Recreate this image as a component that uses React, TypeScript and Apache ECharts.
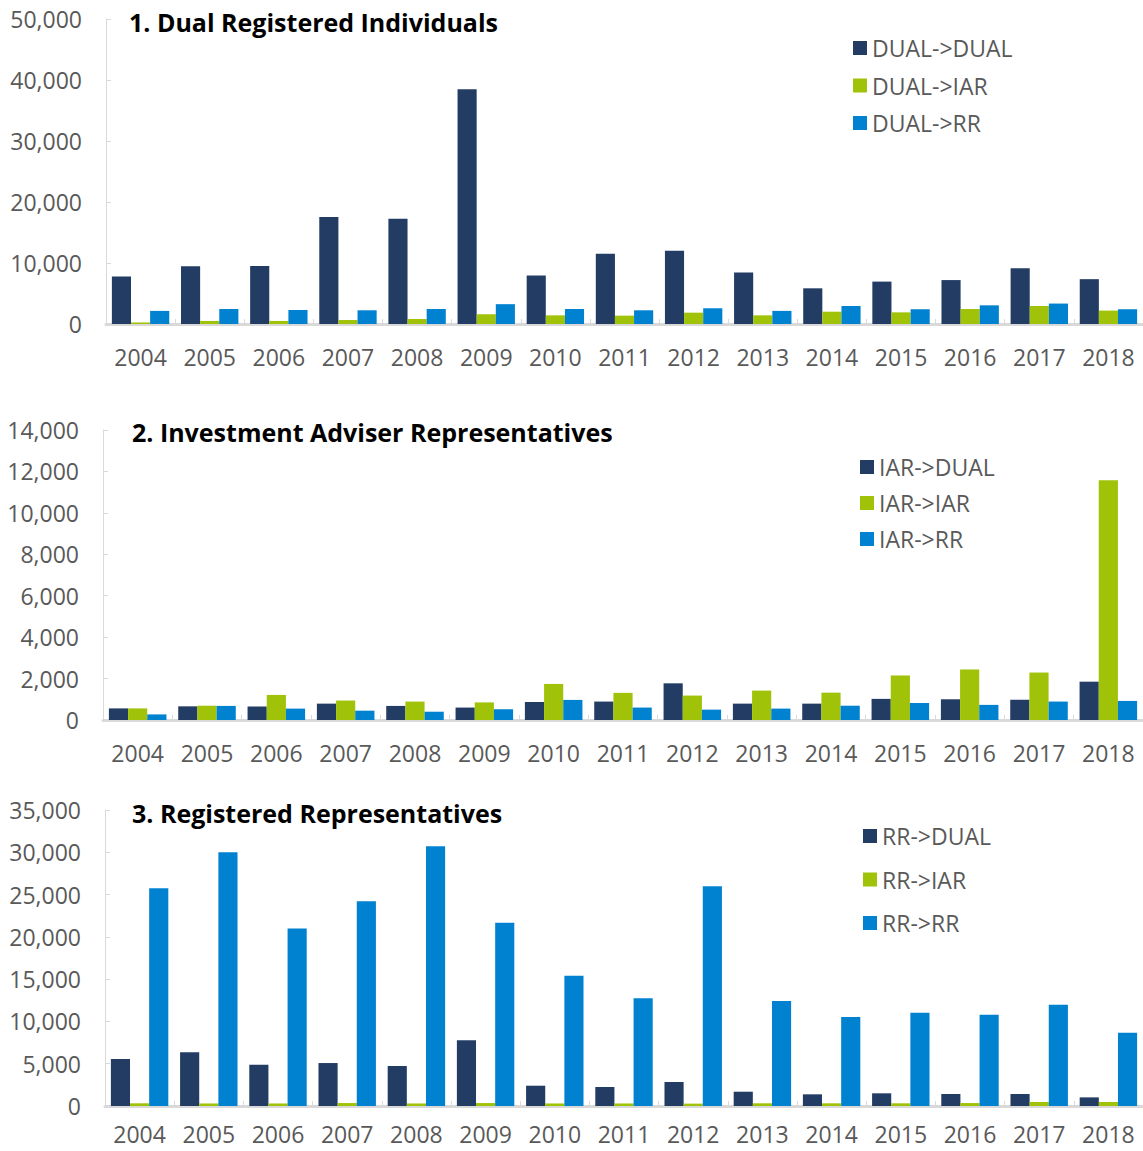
import React, { useEffect, useRef } from "react";
import * as echarts from "echarts";

const years = ["2004","2005","2006","2007","2008","2009","2010","2011","2012","2013","2014","2015","2016","2017","2018"];

const dualToDual = [7800, 9450, 9500, 17550, 17250, 38500, 7950, 11500, 12000, 8450, 5850, 6950, 7200, 9150, 7350];
const dualToIar = [250, 500, 500, 650, 820, 1600, 1420, 1370, 1860, 1420, 2020, 1910, 2460, 2950, 2200];
const dualToRr = [2150, 2460, 2300, 2250, 2460, 3250, 2460, 2250, 2580, 2150, 2950, 2420, 3060, 3350, 2420];

const iarToDual = [560, 660, 650, 790, 680, 600, 870, 890, 1770, 790, 790, 1020, 1000, 980, 1850];
const iarToIar = [560, 690, 1210, 940, 890, 850, 1740, 1310, 1180, 1420, 1320, 2150, 2440, 2290, 11580];
const iarToRr = [270, 680, 550, 450, 400, 520, 970, 600, 500, 550, 690, 820, 730, 890, 920];

const rrToDual = [5560, 6350, 4890, 5080, 4730, 7760, 2400, 2250, 2840, 1690, 1380, 1500, 1420, 1420, 1020];
const rrToIar = [320, 300, 300, 350, 300, 350, 300, 300, 280, 320, 320, 320, 350, 470, 470];
const rrToRr = [25740, 30000, 21000, 24200, 30700, 21680, 15410, 12730, 25980, 12420, 10520, 11040, 10800, 11980, 8670];

const titles = ["1. Dual Registered Individuals", "2. Investment Adviser Representatives", "3. Registered Representatives"];
const seriesNames = [
  ["DUAL->DUAL", "DUAL->IAR", "DUAL->RR"],
  ["IAR->DUAL", "IAR->IAR", "IAR->RR"],
  ["RR->DUAL", "RR->IAR", "RR->RR"],
];
const seriesData = [
  [dualToDual, dualToIar, dualToRr],
  [iarToDual, iarToIar, iarToRr],
  [rrToDual, rrToIar, rrToRr],
];
const yMax = [50000, 14000, 35000];
const yInterval = [10000, 2000, 5000];

const colors = ["#233C64", "#A0C30A", "#0082D0"];
const FONT = "Open Sans";
const grey = "#595959";
const axisGrey = "#d9d9d9";

const grids = [
  { left: 106, top: 19, width: 1040, height: 305 },
  { left: 103, top: 430, width: 1042, height: 290 },
  { left: 105, top: 810, width: 1042, height: 296 },
];
const xLabelMargin = [22, 22, 17];
const titlePos = [
  { left: 129, top: 8 },
  { left: 132, top: 418 },
  { left: 132, top: 799 },
];
const legendPos = [
  { left: 853, top: 36, gap: 13.5 },
  { left: 860, top: 455, gap: 12 },
  { left: 863, top: 824, gap: 19.5 },
];

function fmt(v: number) {
  return v.toString().replace(/\B(?=(\d{3})+(?!\d))/g, ",");
}

export default function App() {
  const ref = useRef<HTMLDivElement>(null);
  useEffect(() => {
    if (!ref.current) return;
    const chart = echarts.init(ref.current, null, { renderer: "svg" });
    const series: any[] = [];
    seriesData.forEach((group, gi) => {
      group.forEach((d, si) => {
        series.push({
          type: "bar",
          name: seriesNames[gi][si],
          xAxisIndex: gi,
          yAxisIndex: gi,
          data: d,
          barGap: "0%",
          barCategoryGap: "17%",
          itemStyle: { color: colors[si] },
        });
      });
    });
    chart.setOption({
      animation: false,
      textStyle: { fontFamily: FONT },
      title: titles.map((t, i) => ({
        text: t,
        left: titlePos[i].left,
        top: titlePos[i].top,
        padding: 0,
        textStyle: { fontFamily: FONT, fontSize: 25, fontWeight: "bold", color: "#000", lineHeight: 28 },
      })),
      legend: seriesNames.map((names, i) => ({
        data: names,
        orient: "vertical",
        left: legendPos[i].left,
        top: legendPos[i].top,
        padding: 0,
        itemGap: legendPos[i].gap,
        itemWidth: 14,
        itemHeight: 14,
        icon: "rect",
        selectedMode: false,
        textStyle: { fontFamily: FONT, fontSize: 23, color: grey, lineHeight: 24 },
      })),
      grid: grids.map((g) => ({ ...g, containLabel: false })),
      xAxis: grids.map((_, i) => ({
        type: "category",
        gridIndex: i,
        data: years,
        axisLine: { show: true, lineStyle: { color: axisGrey, width: 3 } },
        axisTick: { show: true, inside: true, length: 5, lineStyle: { color: axisGrey, width: 1 } },
        axisLabel: { fontFamily: FONT, fontSize: 23, lineHeight: 22, color: grey, margin: xLabelMargin[i] },
        splitLine: { show: false },
      })),
      yAxis: grids.map((_, i) => ({
        type: "value",
        gridIndex: i,
        min: 0,
        max: yMax[i],
        interval: yInterval[i],
        axisLine: { show: true, lineStyle: { color: axisGrey, width: 1 } },
        axisTick: { show: true, inside: true, length: 5, lineStyle: { color: axisGrey, width: 1 } },
        axisLabel: { fontFamily: FONT, fontSize: 23, color: grey, margin: 24, formatter: (v: number) => fmt(v) },
        splitLine: { show: false },
      })),
      series,
    });
    return () => chart.dispose();
  }, []);
  return (
    <div
      ref={ref}
      style={{ position: "absolute", left: 0, top: 0, width: 1143, height: 1151, background: "#fff" }}
    />
  );
}
